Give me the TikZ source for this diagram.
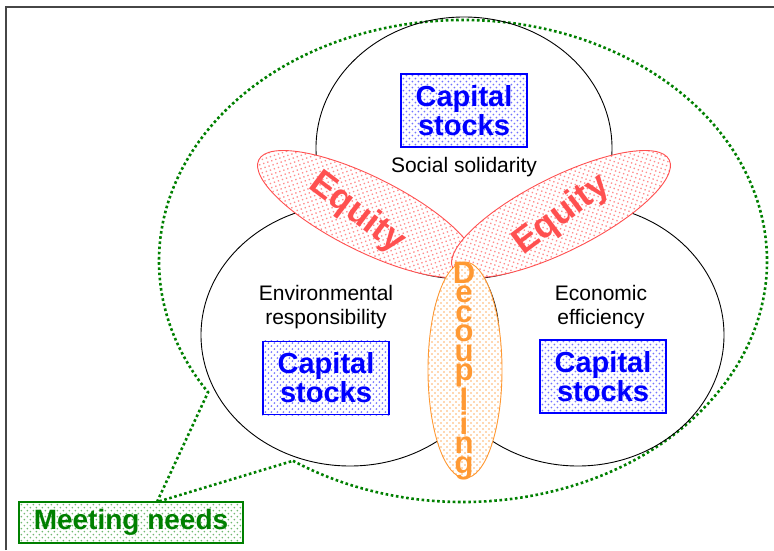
\documentclass[tikz,border=0pt]{standalone}
\usepackage{fontspec}
\setmainfont{Liberation Sans}
\usetikzlibrary{backgrounds}

\definecolor{needgreen}{RGB}{0,128,0}
\definecolor{equityred}{RGB}{255,80,80}
\definecolor{decouporange}{RGB}{255,153,51}
\definecolor{stockblue}{RGB}{0,0,255}
\definecolor{framegray}{RGB}{70,70,70}

%staggered dots: colour, x0, y0, columns, rows
\newcommand{\dotgrid}[5]{%
	\foreach \gy in {0,...,#5} {
		\fill[#1] foreach \gx in {0,...,#4} {(#2+6*\gx,#3+6*\gy) circle[radius=0.95] (#2+6*\gx+3,#3+6*\gy+3) circle[radius=0.95]};
	}}

%dots behind a named box: node, colour, columns, rows
\newcommand{\boxdots}[4]{%
	\begin{scope}[on background layer]
		\begin{scope}
			\clip (#1.south west) rectangle (#1.north east);
			\begin{scope}[shift={(#1.south west)}]
				\dotgrid{#2}{0}{0}{#3}{#4}
			\end{scope}
		\end{scope}
	\end{scope}}

\begin{document}
\begin{tikzpicture}[x=1pt,y=1pt,
	pillar/.style={draw=black, line width=0.9pt},
	petal/.style={draw=equityred, line width=0.9pt},
	equity/.style={text=equityred, font=\bfseries\fontsize{36}{38}\selectfont},
	stockbox/.style={draw=stockblue, line width=1.2pt, text=stockblue, minimum width=126pt, minimum height=73pt, inner sep=0pt, align=center, font=\bfseries\fontsize{29}{29}\selectfont},
	sphere/.style={align=center, font=\fontsize{21}{24}\selectfont},
	needline/.style={draw=needgreen, line width=2.6pt, dash pattern=on 2.6pt off 2.6pt}]

	%Background
	\useasboundingbox (0,0) rectangle (774,550);
	\begin{scope}[on background layer]
		\fill[white] (0,0) rectangle (774,550);
	\end{scope}

	%Frame
	\draw[draw=framegray, line width=2pt] (6,0) -- (6,543) -- (774,543);

	%Meeting needs callout
	\coordinate (hub) at (463,289);
	\coordinate (tip) at (157,48);
	\draw[needline] (hub) ++(236:304 and 241) arc[start angle=236, end angle=573, x radius=304, y radius=241] -- (tip) -- cycle;

	%Pillars
	\draw[pillar] (464,402) ellipse [x radius=148, y radius=131];
	\draw[pillar] (350,215) ellipse [x radius=149, y radius=131];
	\draw[pillar] (578,215) ellipse [x radius=146, y radius=131];

	%Equity
	\begin{scope}[rotate around={-26.6:(367,336)}]
		\fill[white] (367,336) ellipse [x radius=121, y radius=37];
		\begin{scope}
			\clip (367,336) ellipse [x radius=121, y radius=37];
			\dotgrid{equityred!65}{243}{296}{41}{13}
		\end{scope}
		\draw[petal] (367,336) ellipse [x radius=121, y radius=37];
	\end{scope}
	\begin{scope}[rotate around={26.6:(561,336)}]
		\fill[white] (561,336) ellipse [x radius=121, y radius=37];
		\begin{scope}
			\clip (561,336) ellipse [x radius=121, y radius=37];
			\dotgrid{equityred!65}{437}{296}{41}{13}
		\end{scope}
		\draw[petal] (561,336) ellipse [x radius=121, y radius=37];
	\end{scope}
	\node[equity, rotate=-37] (eqleft) at (357,337) {Equity};
	\node[equity, rotate=37] (eqright) at (562,335) {Equity};

	%Decoupling
	\fill[white] (465,180) ellipse [x radius=37, y radius=108];
	\begin{scope}
		\clip (465,180) ellipse [x radius=37, y radius=108];
		\dotgrid{decouporange!75}{426}{70}{13}{37}
	\end{scope}
	\draw[draw=decouporange, line width=0.9pt] (465,180) ellipse [x radius=37, y radius=108];
	\node[align=center, text=decouporange, font=\bfseries\fontsize{31}{19.5}\selectfont] (decoup) at (464,179) {D\\e\\c\\o\\u\\p\\l\\i\\n\\g};

	%Social
	\node[stockbox] (stocksoc) at (464,439.5) {Capital\\stocks};
	\boxdots{stocksoc}{stockblue!55}{21}{12}
	\node[sphere] (social) at (464,382.5) {Social solidarity};

	%Environmental
	\node[sphere] (environ) at (326,243) {Environmental\\responsibility};
	\node[stockbox] (stockenv) at (326,172) {Capital\\stocks};
	\boxdots{stockenv}{stockblue!55}{21}{12}

	%Economic
	\node[sphere] (economic) at (601,243) {Economic\\efficiency};
	\node[stockbox] (stockeco) at (603,173.5) {Capital\\stocks};
	\boxdots{stockeco}{stockblue!55}{21}{12}

	%Needs
	\node[draw=needgreen, line width=1.2pt, text=needgreen, minimum width=224pt, minimum height=41pt, inner sep=0pt, font=\bfseries\fontsize{28}{30}\selectfont] (needs) at (131,27.5) {Meeting needs};
	\boxdots{needs}{needgreen!55}{37}{7}

\end{tikzpicture}
\end{document}
